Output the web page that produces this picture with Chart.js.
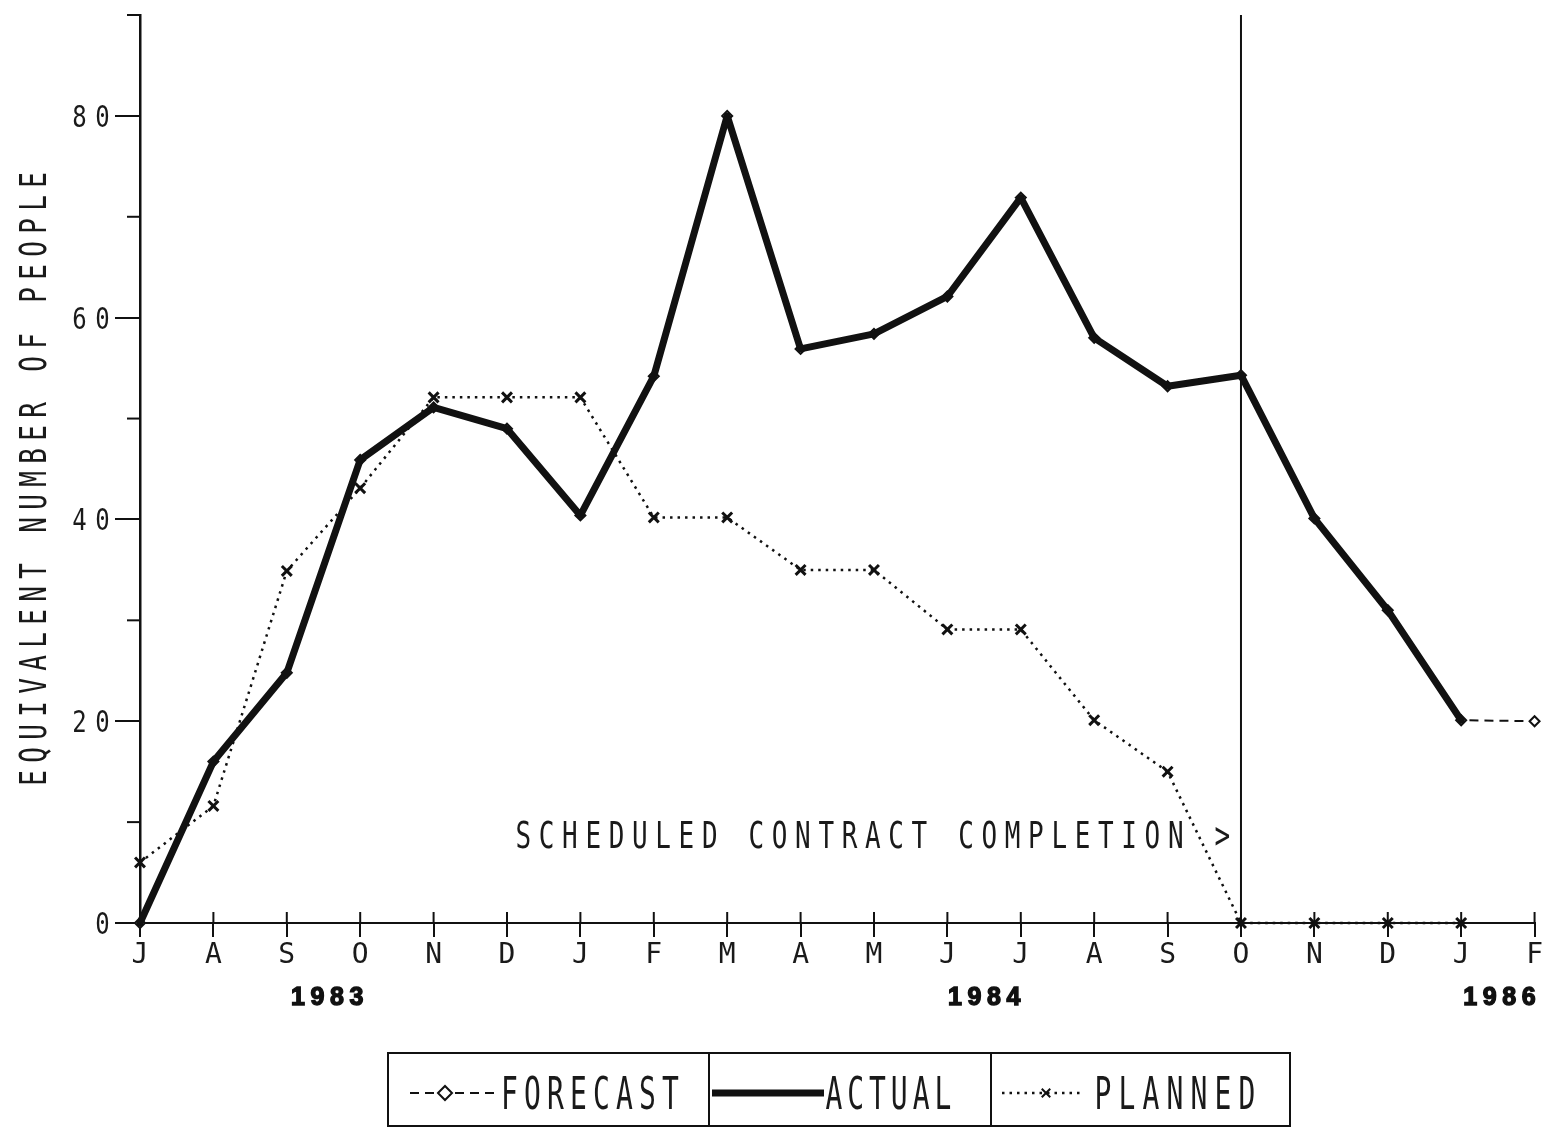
<!DOCTYPE html>
<html><head><meta charset="utf-8">
<script src="https://cdn.jsdelivr.net/npm/chart.js@4.4.1/dist/chart.umd.min.js"></script>
<style>html,body{margin:0;padding:0;background:#fff;}canvas{display:block;}</style>
</head><body>
<canvas id="c" width="1545" height="1128"></canvas>
<script>
const months = ['J','A','S','O','N','D','J','F','M','A','M','J','J','A','S','O','N','D','J','F'];
const actual   = [0,16,24.8,45.9,51.1,49,40.4,54.2,80,56.9,58.4,62.1,71.9,58,53.2,54.3,40.1,31,20.1,null];
const forecast = [0,16,24.8,45.9,51.1,49,40.4,54.2,80,56.9,58.4,62.1,71.9,58,53.2,54.3,40.1,31,20.1,20];
const planned  = [6,11.6,34.9,43.1,52.1,52.1,52.1,40.2,40.2,35,35,29.1,29.1,20.1,15,0,0,0,0,null];
const yTicks = [0,20,40,60,80];
const yMinorTicks = [10,30,50,70,90];
const years = ['1983','1984','1986'];
const yearAt = [2.55,11.5,18.52];
const completionIndex = 15;
const completionValue = 8.8;
const completionText = 'SCHEDULED CONTRACT COMPLETION >';
const yTitle = 'EQUIVALENT NUMBER OF PEOPLE';
const legendLabels = ['FORECAST','ACTUAL','PLANNED'];

const K = '#111';
const MONO = "'DejaVu Sans Mono'";

function mono(ctx, text, x, y, o) {
  const n = text.length, p = o.pitch, W = n * p;
  const left = o.align === 'center' ? -W / 2 : (o.align === 'right' ? -W : 0);
  const cap = (o.capRatio || 0.73) * o.size;
  ctx.save();
  ctx.translate(x, y);
  if (o.rot) ctx.rotate(o.rot);
  ctx.font = (o.weight || 'normal') + ' ' + o.size + 'px ' + (o.family || MONO);
  ctx.fillStyle = o.color || '#1a1a1a';
  ctx.strokeStyle = o.color || '#1a1a1a';
  ctx.textAlign = 'center';
  ctx.textBaseline = 'alphabetic';
  for (let i = 0; i < n; i++) {
    const ch = text[i];
    if (ch === ' ') continue;
    ctx.save();
    ctx.translate(left + i * p + p / 2, cap * o.sy / 2);
    ctx.scale(1, o.sy);
    ctx.fillText(ch, 0, 0);
    if (o.stroke) { ctx.lineWidth = o.stroke; ctx.strokeText(ch, 0, 0); }
    ctx.restore();
  }
  ctx.restore();
}

function line(ctx, x1, y1, x2, y2, w, dash) {
  ctx.save();
  ctx.strokeStyle = K; ctx.lineWidth = w;
  ctx.setLineDash(dash || []);
  ctx.beginPath(); ctx.moveTo(x1, y1); ctx.lineTo(x2, y2); ctx.stroke();
  ctx.restore();
}

const decor = {
  id: 'decor',
  beforeDraw(chart) {
    const ctx = chart.ctx;
    ctx.save(); ctx.fillStyle = '#fff'; ctx.fillRect(0, 0, chart.width, chart.height); ctx.restore();
  },
  beforeDatasetsDraw(chart) {
    const ctx = chart.ctx, xs = chart.scales.x, a = chart.chartArea;
    const xo = xs.getPixelForValue(completionIndex);
    line(ctx, xo, a.top, xo, a.bottom, 2);
  },
  afterDraw(chart) {
    const ctx = chart.ctx, xs = chart.scales.x, ys = chart.scales.y, a = chart.chartArea;
    for (let i = 0; i < months.length; i++) {
      const px = xs.getPixelForValue(i);
      line(ctx, px, a.bottom - 11, px, a.bottom, 2);
    }
    yMinorTicks.forEach(v => {
      const py = ys.getPixelForValue(v);
      line(ctx, a.left - 13, py, a.left, py, 2);
    });
    yTicks.forEach(v => {
      mono(ctx, String(v), 114, ys.getPixelForValue(v), {pitch: 23, size: 24, sy: 1.25, align: 'right'});
    });
    mono(ctx, yTitle, 33, (a.top + 783) / 2 + 80, {pitch: 23, size: 26, sy: 1.42, align: 'center', rot: -Math.PI / 2});
    mono(ctx, completionText, xs.getPixelForValue(completionIndex) - 7, ys.getPixelForValue(completionValue),
         {pitch: 23.3, size: 26, sy: 1.42, align: 'right'});
    years.forEach((t, i) => {
      mono(ctx, t, xs.getPixelForValue(yearAt[i]), 996,
           {pitch: 19.5, size: 25, sy: 1.0, align: 'center', weight: 'bold', family: "'Liberation Sans'",
            capRatio: 0.72, color: '#111', stroke: 1.4});
    });
    const lt = 1053, lb = 1126, ly = 1093;
    ctx.save();
    ctx.strokeStyle = K; ctx.lineWidth = 2;
    ctx.strokeRect(388, lt, 1290 - 388, lb - lt);
    ctx.restore();
    line(ctx, 709, lt, 709, lb, 2);
    line(ctx, 991, lt, 991, lb, 2);
    const ds = chart.data.datasets;
    const txt = {size: 28, sy: 1.6};
    line(ctx, 410, ly, 500, ly, ds[1].borderWidth, ds[1].borderDash);
    ctx.save(); ctx.fillStyle = '#fff'; ctx.strokeStyle = K;
    Chart.helpers.drawPoint(ctx, {pointStyle: ds[1].pointStyle, radius: 7, borderWidth: 2}, 445, ly);
    ctx.restore();
    mono(ctx, legendLabels[0], 498, ly, Object.assign({pitch: 23}, txt));
    line(ctx, 712, ly, 824, ly, ds[0].borderWidth);
    mono(ctx, legendLabels[1], 823, ly, Object.assign({pitch: 21.8}, txt));
    line(ctx, 1002, ly, 1084, ly, ds[2].borderWidth, ds[2].borderDash);
    ctx.save(); ctx.fillStyle = K; ctx.strokeStyle = K;
    Chart.helpers.drawPoint(ctx, {pointStyle: ds[2].pointStyle, radius: 6, borderWidth: 3}, 1046, ly);
    ctx.restore();
    mono(ctx, legendLabels[2], 1091, ly, Object.assign({pitch: 24}, txt));
  }
};

new Chart(document.getElementById('c'), {
  type: 'line',
  data: {
    labels: months,
    datasets: [
      { label: 'ACTUAL', data: actual, borderColor: K, borderWidth: 7, pointRadius: 0,
        borderJoinStyle: 'round', borderCapStyle: 'round', tension: 0, clip: false, order: 0, spanGaps: false },
      { label: 'FORECAST', data: forecast, borderColor: K, borderWidth: 2, borderDash: [9, 6],
        pointStyle: 'rectRot', pointRadius: 5, pointBorderWidth: 2, pointBackgroundColor: '#fff',
        pointBorderColor: K, tension: 0, clip: false, order: 1 },
      { label: 'PLANNED', data: planned, borderColor: K, borderWidth: 2.5, borderDash: [2.5, 5],
        pointStyle: 'crossRot', pointRadius: 7, pointBorderWidth: 3, pointBorderColor: K,
        tension: 0, clip: false, order: 2 }
    ]
  },
  options: {
    responsive: false, animation: false, devicePixelRatio: 1,
    layout: { padding: { top: 15, right: 10, left: 0, bottom: 0 } },
    plugins: { legend: { display: false }, tooltip: { enabled: false } },
    scales: {
      x: {
        type: 'category', offset: false,
        grid: { display: true, drawOnChartArea: false, drawTicks: true, tickLength: 14, color: K, lineWidth: 2 },
        border: { display: true, color: K, width: 2 },
        ticks: { color: '#1a1a1a', font: { family: 'DejaVu Sans Mono', size: 28 }, padding: 2, maxRotation: 0, autoSkip: false },
        afterFit: s => { s.height = 205; }
      },
      y: {
        min: 0, max: 90,
        grid: { display: true, drawOnChartArea: false, drawTicks: true, tickLength: 25, lineWidth: 2,
                color: c => (c.tick && c.tick.value % 20 === 0 && c.tick.value <= 80) ? K : 'rgba(0,0,0,0)' },
        border: { display: true, color: K, width: 2.5 },
        ticks: { stepSize: 10, callback: () => '', font: { size: 10 } },
        afterFit: s => { s.width = 140; }
      }
    }
  },
  plugins: [decor]
});
</script>
</body></html>
